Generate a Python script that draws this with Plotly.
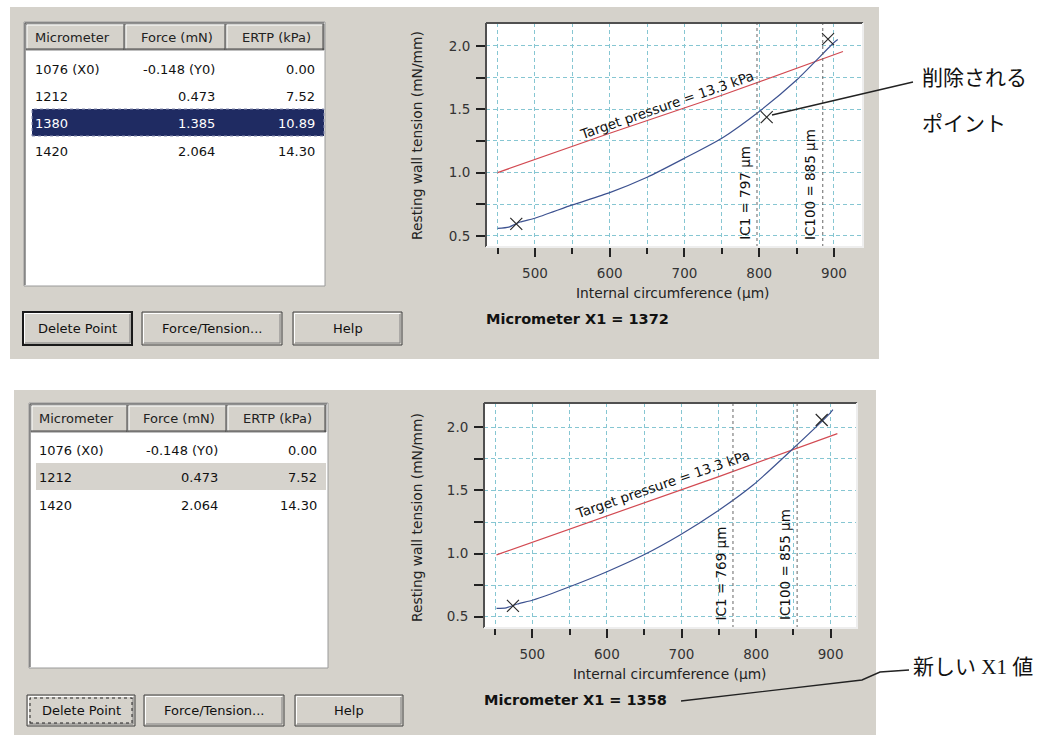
import plotly.graph_objects as go

W, H = 1057, 735

# ---------------- data ----------------
table_headers = ["Micrometer", "Force (mN)", "ERTP (kPa)"]
button_labels = ["Delete Point", "Force/Tension...", "Help"]

micrometer_top = ["1076 (X0)", "1212", "1380", "1420"]
force_top = ["-0.148 (Y0)", "0.473", "1.385", "2.064"]
ertp_top = ["0.00", "7.52", "10.89", "14.30"]

micrometer_bot = ["1076 (X0)", "1212", "1420"]
force_bot = ["-0.148 (Y0)", "0.473", "2.064"]
ertp_bot = ["0.00", "7.52", "14.30"]

circ_top = [450, 465, 480, 500, 550, 600, 650, 700, 750, 800, 850, 900, 905]
tension_top = [0.56, 0.57, 0.61, 0.64, 0.745, 0.842, 0.963, 1.113, 1.271, 1.482, 1.73, 2.026, 2.05]
circ_bot = [452, 465, 480, 501, 550, 600, 649, 698, 747, 796, 850, 899, 903]
tension_bot = [0.566, 0.57, 0.60, 0.632, 0.737, 0.856, 0.988, 1.147, 1.331, 1.543, 1.834, 2.111, 2.14]

target_circ_top = [450, 600, 750, 912]
target_tension_top = [1.0, 1.31, 1.61, 1.955]
target_circ_bot = [452, 600, 750, 909]
target_tension_bot = [0.99, 1.30, 1.61, 1.95]

point_circ_top = [475, 810, 892]
point_tension_top = [0.595, 1.437, 2.053]
point_circ_bot = [474, 888]
point_tension_bot = [0.585, 2.058]

ic_labels_top = ["IC1 = 797 µm", "IC100 = 885 µm"]
ic_values_top = [797, 885]
ic_labels_bot = ["IC1 = 769 µm", "IC100 = 855 µm"]
ic_values_bot = [769, 855]

x1_top = 1372
x1_bot = 1358
target_label = "Target pressure = 13.3 kPa"
x_title = "Internal circumference (µm)"
y_title = "Resting wall tension (mN/mm)"
x_ticks = [500, 600, 700, 800, 900]
x_minor = [450, 550, 650, 750, 850]
y_ticks = [0.5, 1.0, 1.5, 2.0]
y_minor = [0.75, 1.25, 1.75]

callout_top = ["削除される", "ポイント"]
callout_bot = "新しい X1 値"

# ---------------- style ----------------
PANEL = "#d5d2cb"
GRID = "#86c6d2"
GRID_DASH = "4px,3px"
BLUE = "#3d5290"
RED = "#d24a52"
FONT = "DejaVu Sans"
JP_FONT = "Liberation Serif, Noto Sans CJK JP"

shapes = []
annotations = []


def rect(x0, y0, x1, y1, fill="rgba(0,0,0,0)", color=None, width=1, dash="solid", layer="above"):
    shapes.append(dict(type="rect", xref="paper", yref="paper",
                       x0=x0 / W, x1=x1 / W, y0=1 - y1 / H, y1=1 - y0 / H,
                       fillcolor=fill, layer=layer,
                       line=dict(color=color if color else "rgba(0,0,0,0)",
                                 width=width if color else 0, dash=dash)))


def seg(x0, y0, x1, y1, color, width=1, dash="solid"):
    shapes.append(dict(type="line", xref="paper", yref="paper",
                       x0=x0 / W, x1=x1 / W, y0=1 - y0 / H, y1=1 - y1 / H,
                       line=dict(color=color, width=width, dash=dash)))


def path(points, color, width=1.3):
    d = "M " + " L ".join(f"{x / W},{1 - y / H}" for x, y in points)
    shapes.append(dict(type="path", xref="paper", yref="paper", path=d,
                       line=dict(color=color, width=width)))


def text(x, y, s, size=13, xanchor="left", color="#000", family=FONT, textangle=0):
    annotations.append(dict(xref="paper", yref="paper", x=x / W, y=1 - y / H, text=s,
                            showarrow=False, xanchor=xanchor, yanchor="middle",
                            textangle=textangle, borderpad=0,
                            font=dict(family=family, size=size, color=color)))


# ---------------- panels ----------------
rect(10, 7, 879, 359, fill=PANEL, layer="below")
rect(14, 390, 876, 740, fill=PANEL, layer="below")


def draw_table(box, edges, header, row_ys, cols, tx, hl=None):
    x0, y0, x1, y1 = box
    rect(x0, y0, x1, y1, fill="white", color="#9a9a9a")
    seg(x0 + 1, y0 + 1, x1 - 1, y0 + 1, "#404040")
    seg(x0 + 1, y0 + 1, x0 + 1, y1 - 1, "#404040")
    hy0, hy1 = header
    for i in range(3):
        cx0, cx1 = edges[i], edges[i + 1]
        rect(cx0, hy0, cx1, hy1, fill=PANEL, color="#808080")
        seg(cx0 + 1, hy0 + 1, cx1 - 1, hy0 + 1, "white")
        seg(cx0 + 1, hy0 + 1, cx0 + 1, hy1 - 1, "white")
        seg(cx1 - 1, hy0, cx1 - 1, hy1, "#404040")
        seg(cx0, hy1 - 1, cx1, hy1 - 1, "#404040")
    hyc = (hy0 + hy1) / 2
    text(tx[0], hyc, table_headers[0], color="#222")
    text((edges[1] + edges[2]) / 2 + 1, hyc, table_headers[1], xanchor="center", color="#222")
    text((edges[2] + edges[3]) / 2 + 1, hyc, table_headers[2], xanchor="center", color="#222")
    if hl:
        rect(hl["x0"], hl["y0"], hl["x1"], hl["y1"], fill=hl["fill"],
             color=hl.get("border"), dash="dot")
    for r, y in enumerate(row_ys):
        c = hl["color"] if (hl and hl["row"] == r) else "#111"
        text(tx[0], y, cols[0][r], color=c)
        text(tx[1], y, cols[1][r], xanchor="right", color=c)
        text(tx[2], y, cols[2][r], xanchor="right", color=c)


draw_table((24, 22, 325, 286), [26, 125, 226, 324], (24, 50), [69, 96, 123, 151],
           [micrometer_top, force_top, ertp_top], [34, 216, 316],
           hl=dict(x0=32, y0=109, x1=324, y1=136, fill="#1f2b62", color="white",
                   border="#8a8fb0", row=2))
draw_table((29, 403, 328, 668), [31, 128, 227, 326], (405, 432), [450, 477, 505],
           [micrometer_bot, force_bot, ertp_bot], [38, 219, 318],
           hl=dict(x0=36, y0=463, x1=326, y1=490, fill="#d6d3cd", color="#111", row=1))


def button(x0, y0, x1, y1, label, default=False, focus=False):
    rect(x0, y0, x1, y1, fill=PANEL, color="#1a1a1a" if default else "#404040",
         width=2 if default else 1)
    seg(x0 + 1.5, y0 + 1.5, x1 - 2, y0 + 1.5, "white")
    seg(x0 + 1.5, y0 + 1.5, x0 + 1.5, y1 - 2, "white")
    seg(x0 + 2, y1 - 2, x1 - 2, y1 - 2, "#808080")
    seg(x1 - 2, y0 + 2, x1 - 2, y1 - 2, "#808080")
    if focus:
        rect(x0 + 3, y0 + 3, x1 - 3, y1 - 3, color="#222", dash="dot")
    text((x0 + x1) / 2, (y0 + y1) / 2, label, xanchor="center", color="#111")


for (bx0, bx1), lab in zip([(23, 132), (142, 282), (293, 402)], button_labels):
    button(bx0, 312, bx1, 345, lab, default=(lab == button_labels[0]))
for (bx0, bx1), lab in zip([(27, 135), (144, 284), (295, 403)], button_labels):
    button(bx0, 695, bx1, 726, lab, focus=(lab == button_labels[0]))

# ---------------- charts ----------------
fig = go.Figure()

charts = [
    dict(px=(486, 863), py=(23, 247), xr=[434.5, 938.8], yr=[0.413, 2.18],
         circ=circ_top, ten=tension_top, tc=target_circ_top, tt=target_tension_top,
         pc=point_circ_top, pt=point_tension_top, icv=ic_values_top, icl=ic_labels_top,
         x1=x1_top, lab=(676, 1.535), xt=(673, 293), yt=(417, 136), mic=(485, 319)),
    dict(px=(484, 857), py=(403, 628), xr=[435.2, 935.3], yr=[0.41, 2.193],
         circ=circ_bot, ten=tension_bot, tc=target_circ_bot, tt=target_tension_bot,
         pc=point_circ_bot, pt=point_tension_bot, icv=ic_values_bot, icl=ic_labels_bot,
         x1=x1_bot, lab=(675, 1.55), xt=(670, 674), yt=(417, 518), mic=(483, 700)),
]

for i, c in enumerate(charts):
    n = "" if i == 0 else str(i + 1)
    xa, ya = "x" + n, "y" + n
    (l, r), (t, b) = c["px"], c["py"]
    # white plotting area
    rect(l, t, r, b, fill="white", layer="below")
    fig.add_trace(go.Scatter(x=c["tc"], y=c["tt"], mode="lines", xaxis=xa, yaxis=ya,
                             line=dict(color=RED, width=1.2), hoverinfo="skip"))
    fig.add_trace(go.Scatter(x=c["circ"], y=c["ten"], mode="lines", xaxis=xa, yaxis=ya,
                             line=dict(color=BLUE, width=1.2, shape="spline", smoothing=0.6),
                             hoverinfo="skip"))
    fig.add_trace(go.Scatter(x=c["pc"], y=c["pt"], mode="markers", xaxis=xa, yaxis=ya,
                             marker=dict(symbol="x-thin", size=12,
                                         line=dict(color="#2a2a2a", width=1.2)),
                             hoverinfo="skip"))
    for v, s in zip(c["icv"], c["icl"]):
        shapes.append(dict(type="line", xref=xa, yref=ya + " domain", x0=v, x1=v, y0=0, y1=1,
                           line=dict(color="#666", width=1, dash="dot")))
        annotations.append(dict(xref=xa, yref=ya, x=v, y=0.462, text=s, showarrow=False,
                                textangle=-90, xanchor="right", yanchor="bottom",
                                xshift=-3, borderpad=0,
                                font=dict(family=FONT, size=13.5, color="#111")))
    annotations.append(dict(xref=xa, yref=ya, x=c["lab"][0], y=c["lab"][1], text=target_label,
                            showarrow=False, textangle=-19, borderpad=0,
                            font=dict(family=FONT, size=13.5, color="#111")))
    # sunken frame
    seg(l, t, r, t, "#505050", 2)
    seg(l, t, l, b, "#505050", 2)
    seg(r, t, r, b + 1, "#eeeeee", 2)
    seg(l, b, r, b, "#eeeeee", 2)
    text(c["xt"][0], c["xt"][1], x_title, size=13.8, xanchor="center", color="#222")
    text(c["yt"][0], c["yt"][1], y_title, size=13.8, xanchor="center", color="#222", textangle=-90)
    text(c["mic"][0], c["mic"][1], f"<b>Micrometer X1 = {c['x1']}</b>", size=14.5, color="#111")

    axcommon = dict(showline=False, zeroline=False, fixedrange=True, ticks="outside",
                    tickcolor="#222", tickwidth=1.5, showgrid=True, gridcolor=GRID,
                    griddash=GRID_DASH, gridwidth=1,
                    tickfont=dict(family=FONT, size=13.5, color="#333"))
    fig.layout["xaxis" + n] = dict(
        domain=[l / W, r / W], anchor=ya, range=c["xr"], tickmode="array",
        tickvals=x_ticks, ticklen=9, ticklabelstandoff=5,
        minor=dict(tickmode="array", tickvals=x_minor, ticks="outside", ticklen=6,
                   tickcolor="#222", tickwidth=1.5, showgrid=True, gridcolor=GRID,
                   griddash=GRID_DASH),
        **axcommon)
    fig.layout["yaxis" + n] = dict(
        domain=[1 - b / H, 1 - t / H], anchor=xa, range=c["yr"], tickmode="array",
        tickvals=y_ticks, ticktext=[f"{v:.1f}" for v in y_ticks], ticklen=9,
        ticklabelstandoff=3,
        minor=dict(tickmode="array", tickvals=y_minor, ticks="outside", ticklen=9,
                   tickcolor="#222", tickwidth=1.5, showgrid=True, gridcolor=GRID,
                   griddash=GRID_DASH),
        **axcommon)

# ---------------- callouts ----------------
path([(772, 115), (913, 82)], "#222", 1.4)
text(921, 78, callout_top[0], size=21, family=JP_FONT, color="#111")
text(921, 124, callout_top[1], size=21, family=JP_FONT, color="#111")
path([(681, 701), (862, 680), (880, 672), (909, 670)], "#222", 1.4)
text(912, 667, callout_bot, size=21, family=JP_FONT, color="#111")

fig.update_layout(width=W, height=H, margin=dict(l=0, r=0, t=0, b=0),
                  paper_bgcolor="white", plot_bgcolor="rgba(0,0,0,0)",
                  showlegend=False, shapes=shapes, annotations=annotations)

fig.write_html("out.html")
